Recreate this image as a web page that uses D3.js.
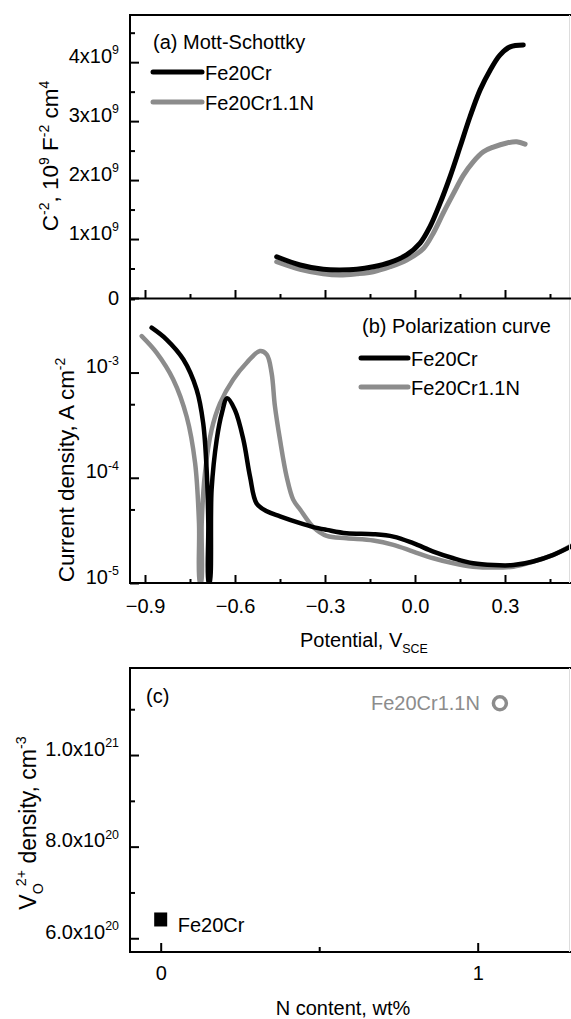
<!DOCTYPE html>
<html>
<head>
<meta charset="utf-8" />
<title>Mott-Schottky / Polarization / Vo density</title>
<script src="https://d3js.org/d3.v7.min.js"></script>
<style>
  body { margin: 0; background: #fff; }
  text { font-family: Arial, "Liberation Sans", sans-serif; }
</style>
</head>
<body>
<svg></svg>
<script>
// ---- data ----
// (a) Mott-Schottky, potential V vs C^-2 (F^-2 cm^4)
const msPotential = [-0.461,-0.383,-0.306,-0.25,-0.194,-0.139,-0.083,-0.028,0.017,0.05,0.083,0.117,0.15,0.183,0.217,0.25,0.283,0.317,0.361];
const msFe20Cr    = [0.70e9,0.56e9,0.486e9,0.475e9,0.486e9,0.53e9,0.605e9,0.73e9,0.93e9,1.21e9,1.60e9,2.06e9,2.56e9,3.07e9,3.53e9,3.86e9,4.12e9,4.26e9,4.29e9];
const msPotentialN = [-0.461,-0.383,-0.306,-0.25,-0.194,-0.139,-0.083,-0.028,0.028,0.061,0.094,0.128,0.161,0.194,0.228,0.261,0.306,0.339,0.367];
const msFe20CrN    = [0.615e9,0.486e9,0.41e9,0.39e9,0.41e9,0.446e9,0.53e9,0.644e9,0.84e9,1.10e9,1.44e9,1.77e9,2.08e9,2.31e9,2.48e9,2.56e9,2.63e9,2.65e9,2.61e9];

// (b) polarization curves, potential V vs current density A cm^-2
const polPotential = [-0.878,-0.828,-0.772,-0.728,-0.706,-0.694,-0.689,-0.688,-0.685,-0.678,-0.661,-0.644,-0.626,-0.6,-0.572,-0.55,-0.528,-0.494,-0.45,-0.383,-0.339,-0.294,-0.228,-0.139,-0.072,-0.006,0.061,0.128,0.194,0.261,0.328,0.394,0.461,0.52];
const polFe20Cr    = [2.67e-3,2.06e-3,1.33e-3,6.9e-4,3.3e-4,1.11e-4,3.7e-5,1.0e-5,1.0e-5,7.7e-5,2.3e-4,4.1e-4,5.7e-4,4.4e-4,2.3e-4,1.03e-4,5.7e-5,4.8e-5,4.3e-5,3.7e-5,3.4e-5,3.2e-5,2.97e-5,2.91e-5,2.76e-5,2.39e-5,1.99e-5,1.72e-5,1.54e-5,1.48e-5,1.48e-5,1.60e-5,1.85e-5,2.22e-5];
const polPotentialN = [-0.911,-0.861,-0.806,-0.761,-0.733,-0.72,-0.717,-0.713,-0.711,-0.7,-0.678,-0.65,-0.606,-0.561,-0.517,-0.494,-0.478,-0.467,-0.45,-0.428,-0.406,-0.383,-0.339,-0.294,-0.228,-0.139,-0.072,-0.006,0.061,0.128,0.194,0.261,0.328,0.394,0.461,0.52];
const polFe20CrN    = [2.22e-3,1.54e-3,8.6e-4,3.8e-4,1.38e-4,3.7e-5,1.0e-5,1.0e-5,3.7e-5,1.11e-4,2.86e-4,5.1e-4,8.6e-4,1.24e-3,1.60e-3,1.48e-3,9.9e-4,4.8e-4,2.3e-4,1.03e-4,6.2e-5,5.0e-5,3.4e-5,2.8e-5,2.66e-5,2.53e-5,2.30e-5,1.99e-5,1.72e-5,1.54e-5,1.43e-5,1.40e-5,1.43e-5,1.60e-5,1.85e-5,2.26e-5];

// (c) oxygen vacancy density vs N content
const alloys     = ["Fe20Cr", "Fe20Cr1.1N"];
const nContent   = [0, 1.07];
const voDensity  = [6.41e20, 1.113e21];

// ticks
const potTicks = [-0.9, -0.6, -0.3, 0.0, 0.3];
const potMinor = [-0.75, -0.45, -0.15, 0.15, 0.45];
const msTicks = [0, 1e9, 2e9, 3e9, 4e9];
const msMinor = [0.5e9, 1.5e9, 2.5e9, 3.5e9, 4.5e9];
const polTicks = [1e-5, 1e-4, 1e-3];
const polMinor = [5e-5, 5e-4, 5e-3];
const voTicks = [6e20, 8e20, 1e21];
const voMinor = [7e20, 9e20, 1.1e21];
const nTicks = [0, 1];
const nMinor = [0.5];

const W = 571, H = 1019;
const left = 130;
const black = "#000", gray = "#8c8c8c";
const FS = 20, LFS = 22.5;

const svg = d3.select("svg").attr("width", W).attr("height", H);
svg.append("rect").attr("width", W).attr("height", H).attr("fill", "#fff");

// helper for super/subscripts
function rich(t, parts, fs) {
  let shift = 0;
  parts.forEach(p => {
    const target = p.s === "sup" ? -0.42 * fs : p.s === "sub" ? 0.3 * fs : 0;
    const ts = t.append("tspan").text(p.t).attr("dy", target - shift);
    if (p.s) ts.attr("font-size", fs * 0.62);
    if (p.dx) ts.attr("dx", p.dx);
    shift = target;
  });
}

// scales
const x = d3.scaleLinear().domain([-0.95, 0.6]).range([left, left + 1.55 * 300]);
const yA = d3.scaleLinear().domain([0, 4.8e9]).range([298, 15]);
const yB = d3.scaleLog().domain([1e-5, 5e-3]).range([583, 299]);
const xC = d3.scaleLinear().domain([-0.1, 1.3]).range([129, 129 + 1.4 * 317]);
const yC = d3.scaleLinear().domain([5.7e20, 1.19e21]).range([952, 668]);

function styleAxis(g) {
  g.select(".domain").remove();
  g.selectAll(".tick line").attr("stroke", "#000").attr("stroke-width", 2);
  g.selectAll("text").attr("font-size", FS).attr("fill", "#000")
    .attr("font-family", "Arial, 'Liberation Sans', sans-serif");
}

function frame(top, bottom) {
  svg.append("line").attr("x1", left).attr("x2", left).attr("y1", top).attr("y2", bottom)
    .attr("stroke", "#000").attr("stroke-width", 2);
  [top, bottom].forEach(yy => svg.append("line").attr("x1", left - 1).attr("x2", W + 5)
    .attr("y1", yy).attr("y2", yy).attr("stroke", "#000").attr("stroke-width", 2));
  svg.append("line").attr("x1", 569.5).attr("x2", 569.5).attr("y1", top).attr("y2", bottom)
    .attr("stroke", "#ddd").attr("stroke-width", 1);
}

// ---------- panel (a) ----------
svg.append("g").attr("transform", `translate(${left},0)`)
  .call(d3.axisLeft(yA).tickValues(msTicks).tickSize(-9).tickPadding(11).tickFormat(""))
  .call(styleAxis)
  .selectAll(".tick text").each(function(d) {
    const t = d3.select(this);
    if (d === 0) t.text("0");
    else rich(t, [{t: (d / 1e9) + "x10"}, {t: "9", s: "sup"}], FS);
  });
svg.append("g").attr("transform", `translate(${left},0)`)
  .call(d3.axisLeft(yA).tickValues(msMinor).tickSize(-5).tickFormat("")).call(styleAxis);
svg.append("g").attr("transform", "translate(0,298)")
  .call(d3.axisBottom(x).tickValues(potTicks).tickSize(-8).tickFormat("")).call(styleAxis);
svg.append("g").attr("transform", "translate(0,298)")
  .call(d3.axisBottom(x).tickValues(potMinor).tickSize(-4).tickFormat("")).call(styleAxis);

const lineA = d3.line().x(d => x(d[0])).y(d => yA(d[1])).curve(d3.curveCatmullRom.alpha(0.5));
svg.append("path").datum(d3.zip(msPotentialN, msFe20CrN)).attr("d", lineA)
  .attr("fill", "none").attr("stroke", gray).attr("stroke-width", 5).attr("stroke-linecap", "round");
svg.append("path").datum(d3.zip(msPotential, msFe20Cr)).attr("d", lineA)
  .attr("fill", "none").attr("stroke", black).attr("stroke-width", 5).attr("stroke-linecap", "round");

svg.append("text").attr("x", 153).attr("y", 49).attr("font-size", FS).text("(a) Mott-Schottky");
[[black, "Fe20Cr", 72], [gray, "Fe20Cr1.1N", 102]].forEach(([c, name, yy]) => {
  svg.append("line").attr("x1", 153).attr("x2", 202).attr("y1", yy).attr("y2", yy)
    .attr("stroke", c).attr("stroke-width", 5).attr("stroke-linecap", "round");
  svg.append("text").attr("x", 205).attr("y", yy + 8).attr("font-size", FS).text(name);
});

const labA = svg.append("text").attr("transform", "translate(58,156) rotate(-90)")
  .attr("text-anchor", "middle").attr("font-size", LFS);
rich(labA, [{t: "C"}, {t: "-2", s: "sup"}, {t: ", 10"}, {t: "9", s: "sup"}, {t: " F"}, {t: "-2", s: "sup"}, {t: " cm"}, {t: "4", s: "sup"}], LFS);

// ---------- panel (b) ----------
svg.append("defs").append("clipPath").attr("id", "clipB")
  .append("rect").attr("x", left).attr("y", 299).attr("width", W - left).attr("height", 284);

svg.append("g").attr("transform", `translate(${left},0)`)
  .call(d3.axisLeft(yB).tickValues(polTicks).tickSize(-9).tickPadding(11).tickFormat(""))
  .call(styleAxis)
  .selectAll(".tick text").each(function(d) {
    rich(d3.select(this), [{t: "10"}, {t: String(Math.round(Math.log10(d))), s: "sup"}], FS);
  });
svg.append("g").attr("transform", `translate(${left},0)`)
  .call(d3.axisLeft(yB).tickValues(polMinor).tickSize(-5).tickFormat("")).call(styleAxis);
svg.append("g").attr("transform", "translate(0,583)")
  .call(d3.axisBottom(x).tickValues(potTicks).tickSize(-8).tickPadding(16).tickFormat(d3.format(".1f")))
  .call(styleAxis);
svg.append("g").attr("transform", "translate(0,583)")
  .call(d3.axisBottom(x).tickValues(potMinor).tickSize(-4).tickFormat("")).call(styleAxis);

const lineB = d3.line().x(d => x(d[0])).y(d => yB(d[1])).curve(d3.curveCatmullRom.alpha(0.5));
const gB = svg.append("g").attr("clip-path", "url(#clipB)");
gB.append("path").datum(d3.zip(polPotentialN, polFe20CrN)).attr("d", lineB)
  .attr("fill", "none").attr("stroke", gray).attr("stroke-width", 4.5).attr("stroke-linecap", "round");
gB.append("path").datum(d3.zip(polPotential, polFe20Cr)).attr("d", lineB)
  .attr("fill", "none").attr("stroke", black).attr("stroke-width", 4.5).attr("stroke-linecap", "round");

svg.append("text").attr("x", 362).attr("y", 333).attr("font-size", FS).text("(b) Polarization curve");
[[black, "Fe20Cr", 358], [gray, "Fe20Cr1.1N", 387]].forEach(([c, name, yy]) => {
  svg.append("line").attr("x1", 361).attr("x2", 408).attr("y1", yy).attr("y2", yy)
    .attr("stroke", c).attr("stroke-width", 5).attr("stroke-linecap", "round");
  svg.append("text").attr("x", 411).attr("y", yy + 8).attr("font-size", FS).text(name);
});

const labB = svg.append("text").attr("transform", "translate(74,470) rotate(-90)")
  .attr("text-anchor", "middle").attr("font-size", LFS);
rich(labB, [{t: "Current density, A cm"}, {t: "-2", s: "sup"}], LFS);

const labX = svg.append("text").attr("x", 300).attr("y", 647).attr("font-size", FS);
rich(labX, [{t: "Potential, V"}, {t: "SCE", s: "sub"}], FS);

frame(15, 583);
svg.append("line").attr("x1", left).attr("x2", W + 5).attr("y1", 298.5).attr("y2", 298.5)
  .attr("stroke", "#000").attr("stroke-width", 2);

// ---------- panel (c) ----------
svg.append("g").attr("transform", `translate(${left},0)`)
  .call(d3.axisLeft(yC).tickValues(voTicks).tickSize(-9).tickPadding(11).tickFormat(""))
  .call(styleAxis)
  .selectAll(".tick text").each(function(d) {
    const e = Math.floor(Math.log10(d) + 1e-9);
    rich(d3.select(this), [{t: (d / Math.pow(10, e)).toFixed(1) + "x10"}, {t: String(e), s: "sup"}], FS);
  });
svg.append("g").attr("transform", `translate(${left},0)`)
  .call(d3.axisLeft(yC).tickValues(voMinor).tickSize(-5).tickFormat("")).call(styleAxis);
svg.append("g").attr("transform", "translate(0,952)")
  .call(d3.axisBottom(xC).tickValues(nTicks).tickSize(-9).tickPadding(14).tickFormat(d3.format("d")))
  .call(styleAxis);
svg.append("g").attr("transform", "translate(0,952)")
  .call(d3.axisBottom(xC).tickValues(nMinor).tickSize(-5).tickFormat("")).call(styleAxis);
frame(668, 952);

// points
svg.append("rect").attr("x", xC(nContent[0]) - 6.5).attr("y", yC(voDensity[0]) - 7)
  .attr("width", 13).attr("height", 14).attr("fill", black);
svg.append("circle").attr("cx", xC(nContent[1])).attr("cy", yC(voDensity[1])).attr("r", 6.5)
  .attr("fill", "none").attr("stroke", gray).attr("stroke-width", 3.5);
svg.append("text").attr("x", xC(nContent[0]) + 17).attr("y", yC(voDensity[0]) + 13)
  .attr("font-size", FS).text(alloys[0]);
svg.append("text").attr("x", xC(nContent[1]) - 20).attr("y", yC(voDensity[1]) + 7)
  .attr("font-size", FS).attr("text-anchor", "end").attr("fill", gray).text(alloys[1]);

svg.append("text").attr("x", 146).attr("y", 703).attr("font-size", FS).text("(c)");

const labC = svg.append("text").attr("transform", "translate(36,823) rotate(-90)")
  .attr("text-anchor", "middle").attr("font-size", 23);
rich(labC, [{t: "V"}, {t: "O", s: "sub"}, {t: "2+", s: "sup", dx: -3}, {t: " density, cm"}, {t: "-3", s: "sup"}], 23);

svg.append("text").attr("x", 343).attr("y", 1015).attr("text-anchor", "middle")
  .attr("font-size", FS).text("N content, wt%");
</script>
</body>
</html>
